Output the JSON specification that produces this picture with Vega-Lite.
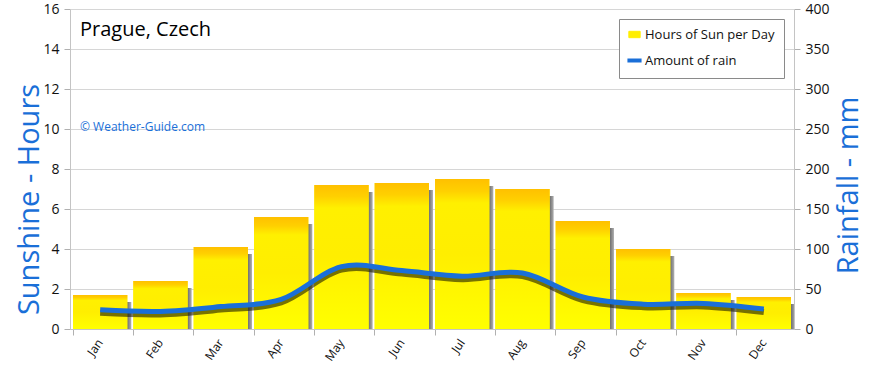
{
  "$schema": "https://vega.github.io/schema/vega-lite/v6.json",
  "width": 724,
  "height": 320,
  "autosize": {"type": "none"},
  "padding": {"left": 70, "top": 9, "right": 76, "bottom": 39},
  "background": "white",
  "config": {
    "font": "Open Sans",
    "view": {"stroke": null},
    "axis": {"domainColor": "#c4c4c4", "tickColor": "#b0b0b0", "gridColor": "#d6d6d6", "labelColor": "#111", "labelFont": "Open Sans"}
  },
  "title": {
    "text": "Prague, Czech",
    "subtitle": "© Weather-Guide.com",
    "anchor": "start",
    "frame": "group",
    "orient": "top",
    "offset": -131,
    "baseline": "top",
    "dx": 10,
    "fontSize": 20,
    "fontWeight": "normal",
    "color": "#000",
    "subtitleColor": "#1a6fd8",
    "subtitleFontSize": 12,
    "subtitlePadding": 82
  },
  "data": {
    "values": [
      {"month": "Jan", "sun": 1.7, "rain": 24},
      {"month": "Feb", "sun": 2.4, "rain": 22},
      {"month": "Mar", "sun": 4.1, "rain": 28},
      {"month": "Apr", "sun": 5.6, "rain": 37},
      {"month": "May", "sun": 7.2, "rain": 78},
      {"month": "Jun", "sun": 7.3, "rain": 73},
      {"month": "Jul", "sun": 7.5, "rain": 66},
      {"month": "Aug", "sun": 7.0, "rain": 70},
      {"month": "Sep", "sun": 5.4, "rain": 40},
      {"month": "Oct", "sun": 4.0, "rain": 31},
      {"month": "Nov", "sun": 1.8, "rain": 32},
      {"month": "Dec", "sun": 1.6, "rain": 25}
    ]
  },
  "encoding": {
    "x": {
      "field": "month",
      "type": "ordinal",
      "sort": null,
      "scale": {"paddingInner": 0.1, "paddingOuter": 0.05},
      "axis": {
        "title": null,
        "labelAngle": -55,
        "labelAlign": "right",
        "labelBaseline": "middle",
        "labelFontSize": 12,
        "labelPadding": 5,
        "tickSize": 6,
        "bandPosition": 0,
        "grid": false
      }
    }
  },
  "layer": [
    {
      "encoding": {
        "y": {
          "field": "sun",
          "type": "quantitative",
          "scale": {"domain": [0, 16], "nice": false},
          "axis": {
            "title": "Sunshine - Hours",
            "titleFontSize": 29,
            "titleFontWeight": "normal",
            "titleColor": "#1a6fd8",
            "titleAngle": -90,
            "titleAlign": "center",
            "titleBaseline": "middle",
            "titleX": -41,
            "titleY": 190,
            "values": [0, 2, 4, 6, 8, 10, 12, 14, 16],
            "labelFontSize": 14,
            "tickSize": 6,
            "labelPadding": 5,
            "grid": true
          }
        }
      },
      "layer": [
        {
          "mark": {
            "type": "bar", "xOffset": 4, "yOffset": 7, "clip": true,
            "color": {
              "gradient": "linear", "x1": 0, "y1": 0, "x2": 1, "y2": 0,
              "stops": [
                {"offset": 0.88, "color": "#606060"},
                {"offset": 0.94, "color": "#7a7a7a"},
                {"offset": 1, "color": "#b0b0b0"}
              ]
            }
          }
        },
        {
          "mark": {"type": "bar"},
          "encoding": {
            "color": {
              "datum": "Hours of Sun per Day",
              "scale": {"domain": ["Hours of Sun per Day", "Amount of rain"], "range": ["#ffee00", "#1a6fd8"]},
              "legend": {
                "title": null,
                "orient": "top-right",
                "offset": 10,
                "strokeColor": "#8a8a8a",
                "fillColor": "white",
                "padding": 9,
                "labelFontSize": 13,
                "labelColor": "#111",
                "rowPadding": 10,
                "symbolSize": 200,
                "encode": {
                  "symbols": {
                    "update": {
                      "shape": {"signal": "datum.value === 'Amount of rain' ? 'M-1,0H1' : 'M-0.8,-0.45H0.8V0.45H-0.8Z'"},
                      "fill": {"signal": "datum.value === 'Amount of rain' ? 'transparent' : '#ffe600'"},
                      "stroke": {"signal": "datum.value === 'Amount of rain' ? '#1a6fd8' : '#f5c000'"},
                      "strokeWidth": {"signal": "datum.value === 'Amount of rain' ? 4 : 1"}
                    }
                  }
                }
              }
            }
          }
        },
        {
          "mark": {
            "type": "bar",
            "color": {
              "gradient": "linear",
              "x1": 0, "y1": 0, "x2": 0, "y2": 1,
              "stops": [
                {"offset": 0, "color": "#ffc000"},
                {"offset": 0.08, "color": "#ffd000"},
                {"offset": 0.16, "color": "#fff000"},
                {"offset": 0.5, "color": "#ffee00"},
                {"offset": 1, "color": "#ffff00"}
              ]
            }
          }
        }
      ]
    },
    {
      "encoding": {
        "y": {
          "field": "rain",
          "type": "quantitative",
          "scale": {"domain": [0, 400], "nice": false},
          "axis": {
            "orient": "right",
            "title": "Rainfall - mm",
            "titleFontSize": 29,
            "titleFontWeight": "normal",
            "titleColor": "#1a6fd8",
            "titleAngle": -90,
            "titleAlign": "center",
            "titleBaseline": "middle",
            "titleX": 54,
            "titleY": 176,
            "values": [0, 50, 100, 150, 200, 250, 300, 350, 400],
            "labelFontSize": 14,
            "tickSize": 6,
            "labelPadding": 5,
            "grid": false
          }
        }
      },
      "layer": [
        {
          "mark": {"type": "line", "interpolate": "cardinal", "color": "#1a1a00", "opacity": 0.6, "strokeWidth": 6, "yOffset": 3}
        },
        {
          "mark": {"type": "line", "interpolate": "cardinal", "strokeWidth": 5},
          "encoding": {"color": {"datum": "Amount of rain"}}
        }
      ]
    }
  ],
  "resolve": {"scale": {"y": "independent"}}
}
